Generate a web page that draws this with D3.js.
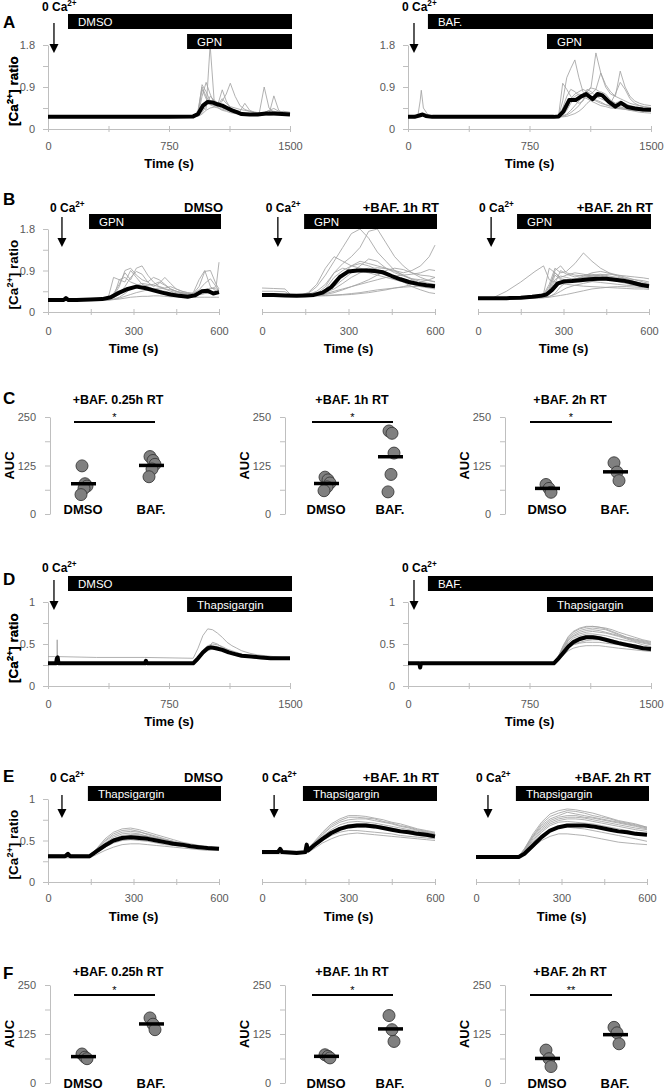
<!DOCTYPE html>
<html><head><meta charset="utf-8">
<script src="https://cdn.jsdelivr.net/npm/d3@7"></script>
<style>body{margin:0;background:#fff;} svg{display:block;}</style>
</head><body>
<script>
// ---------------- DATA ----------------
const xTicks1500 = [0, 375, 750, 1125, 1500];
const xLabels1500 = [0, 750, 1500];
const xTicks600 = [0, 150, 300, 450, 600];
const xLabels600 = [0, 300, 600];
const yTicksGPN = [0, 0.45, 0.9, 1.35, 1.8];
const yLabelsGPN = [0, 0.9, 1.8];
const yTicksTG = [0, 0.25, 0.5, 0.75, 1];
const yLabelsTG = [0, 0.5, 1];
const aucTicks = [0, 62.5, 125, 187.5, 250];
const aucLabels = [0, 125, 250];

// Panel A left (DMSO, GPN)
const meanTimeAL = [0, 150, 300, 450, 600, 750, 900, 930, 960, 990, 1020, 1050, 1080, 1110, 1140, 1170, 1200, 1250, 1300, 1350, 1400, 1450, 1500];
const meanAL = [0.26, 0.26, 0.26, 0.26, 0.26, 0.26, 0.27, 0.32, 0.50, 0.58, 0.57, 0.53, 0.50, 0.45, 0.40, 0.36, 0.32, 0.31, 0.31, 0.33, 0.33, 0.32, 0.31];
const respTimeA = [900, 930, 955, 980, 1005, 1030, 1055, 1080, 1105, 1130, 1160, 1190, 1220, 1250, 1280, 1310, 1340, 1370, 1400, 1430, 1460, 1500];
const tracesAL = [
  [0.26, 0.30, 0.45, 0.42, 1.80, 0.60, 0.45, 0.40, 0.38, 0.35, 0.33, 0.32, 0.30, 0.30, 0.31, 0.33, 0.32, 0.30, 0.31, 0.32, 0.31, 0.30],
  [0.26, 0.35, 0.95, 0.80, 0.60, 0.50, 0.48, 0.45, 0.42, 0.40, 0.36, 0.33, 0.32, 0.31, 0.30, 0.35, 0.90, 0.45, 0.35, 0.33, 0.32, 0.31],
  [0.26, 0.40, 0.90, 0.70, 0.55, 0.50, 0.55, 0.84, 0.60, 0.45, 0.40, 0.36, 0.33, 0.32, 0.31, 0.30, 0.31, 0.32, 0.71, 0.40, 0.34, 0.33],
  [0.26, 0.30, 0.70, 1.00, 0.75, 0.55, 0.50, 0.60, 0.75, 0.98, 0.70, 0.50, 0.42, 0.38, 0.35, 0.34, 0.33, 0.34, 0.35, 0.36, 0.34, 0.33],
  [0.26, 0.28, 0.40, 0.55, 0.60, 0.58, 0.55, 0.50, 0.46, 0.42, 0.40, 0.38, 0.55, 0.40, 0.36, 0.35, 0.34, 0.40, 0.38, 0.36, 0.37, 0.36],
  [0.26, 0.27, 0.32, 0.40, 0.45, 0.47, 0.45, 0.42, 0.40, 0.38, 0.35, 0.33, 0.32, 0.31, 0.30, 0.30, 0.30, 0.29, 0.30, 0.30, 0.30, 0.30],
  [0.26, 0.32, 0.85, 0.65, 0.52, 0.48, 0.52, 0.65, 0.55, 0.48, 0.45, 0.42, 0.40, 0.38, 0.36, 0.34, 0.33, 0.33, 0.34, 0.36, 0.38, 0.35],
  [0.26, 0.28, 0.35, 0.50, 0.70, 0.62, 0.55, 0.50, 0.48, 0.44, 0.40, 0.36, 0.34, 0.32, 0.32, 0.33, 0.35, 0.40, 0.44, 0.38, 0.35, 0.34]
];

// Panel A right (BAF., GPN)
const meanTimeAR = [0, 40, 70, 90, 110, 150, 300, 450, 600, 750, 900, 930, 960, 995, 1035, 1070, 1100, 1140, 1170, 1200, 1240, 1280, 1315, 1355, 1400, 1450, 1500];
const meanAR = [0.26, 0.26, 0.29, 0.31, 0.28, 0.26, 0.26, 0.26, 0.26, 0.26, 0.26, 0.27, 0.38, 0.62, 0.62, 0.70, 0.75, 0.64, 0.75, 0.72, 0.58, 0.48, 0.56, 0.47, 0.44, 0.42, 0.41];
const tracesAR = [
  [0.26, 0.30, 0.98, 0.85, 0.70, 0.60, 0.55, 0.60, 0.75, 0.70, 0.62, 0.58, 0.52, 0.48, 0.45, 0.44, 0.42, 0.40, 0.40, 0.39, 0.38, 0.38],
  [0.26, 0.28, 0.60, 1.10, 1.30, 1.48, 1.10, 0.80, 0.70, 0.65, 0.60, 0.55, 0.52, 0.50, 0.48, 0.46, 0.44, 0.42, 0.42, 0.41, 0.40, 0.40],
  [0.26, 0.27, 0.35, 0.50, 0.65, 0.75, 0.80, 0.85, 0.80, 0.90, 1.63, 1.20, 0.90, 0.75, 0.70, 0.65, 0.60, 0.55, 0.52, 0.50, 0.48, 0.46],
  [0.26, 0.26, 0.30, 0.40, 0.55, 0.65, 0.70, 0.75, 0.80, 0.75, 0.85, 1.20, 0.95, 0.80, 0.70, 1.24, 0.90, 0.70, 0.60, 0.55, 0.52, 0.50],
  [0.26, 0.26, 0.28, 0.32, 0.40, 0.50, 0.60, 0.70, 0.85, 0.80, 0.70, 0.65, 0.60, 0.55, 0.75, 1.00, 0.85, 0.65, 0.55, 0.50, 0.47, 0.45],
  [0.26, 0.28, 0.45, 0.70, 0.85, 0.80, 0.72, 0.68, 0.65, 0.60, 0.55, 0.50, 0.48, 0.45, 0.44, 0.43, 0.42, 0.41, 0.40, 0.40, 0.39, 0.39],
  [0.26, 0.26, 0.27, 0.30, 0.35, 0.42, 0.50, 0.62, 0.80, 0.88, 0.85, 0.78, 0.70, 0.60, 0.55, 0.52, 0.48, 0.45, 0.43, 0.42, 0.40, 0.40],
  [0.26, 0.27, 0.32, 0.45, 0.60, 0.70, 0.75, 0.72, 0.68, 0.65, 0.70, 0.80, 0.75, 0.62, 0.55, 0.60, 0.55, 0.50, 0.48, 0.46, 0.44, 0.42],
  [0.26, 0.26, 0.26, 0.27, 0.30, 0.33, 0.38, 0.45, 0.55, 0.62, 0.68, 0.72, 0.65, 0.58, 0.52, 0.48, 0.44, 0.40, 0.38, 0.36, 0.35, 0.34]
];
const spikeTimeAR = [0, 60, 75, 82, 95, 130];
const spikeAR = [0.26, 0.27, 0.60, 0.83, 0.45, 0.27];

// Panel B left (DMSO)
const meanTimeBL = [0, 30, 55, 63, 72, 100, 150, 190, 220, 250, 280, 310, 340, 370, 400, 430, 460, 490, 515, 540, 560, 580, 600];
const meanBL = [0.26, 0.26, 0.26, 0.30, 0.26, 0.26, 0.27, 0.28, 0.32, 0.42, 0.50, 0.55, 0.52, 0.47, 0.42, 0.38, 0.35, 0.33, 0.36, 0.45, 0.46, 0.40, 0.43];
const respTimeBL = [180, 210, 230, 250, 270, 290, 310, 330, 350, 370, 390, 410, 430, 450, 470, 490, 510, 530, 550, 570, 590, 600];
const tracesBL = [
  [0.26, 0.28, 0.75, 0.70, 0.65, 0.90, 0.75, 0.60, 0.55, 0.50, 0.48, 0.45, 0.42, 0.40, 0.38, 0.37, 0.42, 0.70, 0.90, 0.55, 0.45, 0.40],
  [0.26, 0.30, 0.40, 0.60, 0.85, 0.70, 0.95, 1.00, 0.80, 0.65, 0.55, 0.50, 0.45, 0.42, 0.40, 0.38, 0.40, 0.55, 0.88, 0.90, 0.60, 0.50],
  [0.26, 0.27, 0.35, 0.55, 0.90, 0.95, 0.80, 0.70, 0.65, 0.75, 0.70, 0.60, 0.50, 0.45, 0.42, 0.40, 0.38, 0.40, 0.45, 0.50, 0.55, 1.08],
  [0.26, 0.27, 0.30, 0.40, 0.55, 0.75, 0.88, 0.82, 0.65, 0.55, 0.62, 0.75, 0.62, 0.50, 0.45, 0.42, 0.40, 0.42, 0.48, 0.52, 0.50, 0.48],
  [0.26, 0.26, 0.28, 0.32, 0.40, 0.50, 0.58, 0.62, 0.60, 0.58, 0.55, 0.52, 0.55, 0.50, 0.45, 0.42, 0.40, 0.38, 0.40, 0.42, 0.42, 0.42],
  [0.26, 0.26, 0.27, 0.30, 0.34, 0.38, 0.42, 0.45, 0.48, 0.50, 0.52, 0.50, 0.48, 0.45, 0.42, 0.40, 0.38, 0.38, 0.40, 0.40, 0.40, 0.40],
  [0.26, 0.26, 0.27, 0.28, 0.30, 0.32, 0.33, 0.34, 0.34, 0.35, 0.35, 0.34, 0.33, 0.33, 0.32, 0.32, 0.32, 0.32, 0.32, 0.32, 0.32, 0.32],
  [0.26, 0.28, 0.32, 0.70, 0.75, 0.65, 0.60, 0.55, 0.58, 0.60, 0.65, 0.58, 0.50, 0.45, 0.40, 0.38, 0.40, 0.48, 0.62, 0.72, 0.55, 0.45]
];

// Panel B middle (+BAF. 1h RT)
const meanTimeBM = [0, 40, 80, 120, 150, 180, 210, 240, 270, 300, 330, 360, 390, 420, 450, 480, 510, 540, 570, 600];
const meanBM = [0.37, 0.37, 0.36, 0.35, 0.36, 0.37, 0.42, 0.54, 0.76, 0.88, 0.90, 0.90, 0.89, 0.86, 0.78, 0.71, 0.65, 0.61, 0.58, 0.56];
const respTimeBM = [0, 40, 80, 100, 130, 160, 190, 220, 250, 280, 310, 340, 370, 400, 430, 460, 490, 520, 550, 580, 600];
const tracesBM = [
  [0.52, 0.51, 0.50, 0.37, 0.36, 0.40, 0.55, 0.80, 1.10, 1.40, 1.70, 1.80, 1.60, 1.30, 1.10, 0.90, 0.80, 0.70, 0.62, 0.58, 0.55],
  [0.45, 0.45, 0.44, 0.36, 0.36, 0.38, 0.45, 0.60, 0.85, 1.05, 1.20, 1.40, 1.75, 1.80, 1.50, 1.20, 1.00, 0.85, 0.75, 0.68, 0.65],
  [0.37, 0.37, 0.36, 0.35, 0.36, 0.42, 0.60, 0.95, 1.20, 1.10, 1.00, 0.95, 0.90, 0.85, 0.80, 0.75, 0.70, 0.65, 0.62, 0.60, 0.58],
  [0.37, 0.37, 0.36, 0.35, 0.35, 0.36, 0.38, 0.45, 0.60, 0.80, 1.00, 1.10, 1.05, 1.00, 0.95, 0.90, 0.85, 0.90, 1.00, 1.20, 1.45],
  [0.37, 0.37, 0.36, 0.35, 0.35, 0.36, 0.40, 0.55, 0.85, 0.95, 0.90, 0.88, 0.85, 0.80, 0.75, 0.70, 0.65, 0.60, 0.55, 0.52, 0.50],
  [0.37, 0.37, 0.36, 0.35, 0.35, 0.35, 0.36, 0.38, 0.42, 0.48, 0.55, 0.62, 0.70, 0.80, 0.90, 0.95, 0.92, 0.85, 0.80, 0.78, 0.75],
  [0.37, 0.37, 0.36, 0.35, 0.35, 0.36, 0.37, 0.40, 0.45, 0.50, 0.55, 0.60, 0.65, 0.70, 0.75, 0.78, 0.80, 0.82, 0.85, 0.92, 0.90],
  [0.37, 0.37, 0.36, 0.35, 0.35, 0.35, 0.35, 0.36, 0.37, 0.38, 0.40, 0.42, 0.45, 0.48, 0.50, 0.52, 0.54, 0.55, 0.56, 0.57, 0.58],
  [0.37, 0.37, 0.36, 0.35, 0.35, 0.36, 0.38, 0.50, 0.75, 0.90, 1.00, 1.05, 1.00, 0.92, 0.85, 0.75, 0.65, 0.55, 0.48, 0.42, 0.40],
  [0.37, 0.37, 0.36, 0.35, 0.35, 0.35, 0.36, 0.40, 0.55, 0.70, 0.85, 1.00, 1.15, 1.10, 0.95, 0.85, 0.78, 0.72, 0.70, 0.68, 0.66],
  [0.37, 0.37, 0.36, 0.35, 0.35, 0.35, 0.35, 0.35, 0.36, 0.37, 0.38, 0.40, 0.42, 0.45, 0.48, 0.52, 0.55, 0.60, 0.65, 0.70, 0.75],
  [0.37, 0.37, 0.36, 0.35, 0.35, 0.36, 0.39, 0.48, 0.65, 0.80, 0.88, 0.92, 0.95, 0.90, 0.85, 0.78, 0.72, 0.66, 0.62, 0.58, 0.55],
  [0.37, 0.37, 0.36, 0.35, 0.35, 0.35, 0.37, 0.42, 0.50, 0.62, 0.75, 0.85, 0.92, 0.96, 0.94, 0.88, 0.80, 0.72, 0.66, 0.62, 0.60]
];

// Panel B right (+BAF. 2h RT)
const meanTimeBR = [0, 50, 100, 150, 190, 220, 240, 260, 280, 300, 330, 360, 390, 420, 450, 480, 510, 540, 570, 600];
const meanBR = [0.30, 0.30, 0.30, 0.31, 0.33, 0.35, 0.38, 0.48, 0.62, 0.66, 0.67, 0.69, 0.71, 0.72, 0.72, 0.70, 0.68, 0.64, 0.59, 0.56];
const respTimeBR = [0, 50, 100, 150, 200, 230, 250, 270, 290, 310, 340, 370, 400, 430, 460, 490, 520, 550, 580, 600];
const tracesBR = [
  [0.30, 0.30, 0.45, 0.65, 0.88, 1.00, 0.70, 0.65, 0.62, 0.60, 0.58, 0.56, 0.55, 0.54, 0.53, 0.52, 0.51, 0.50, 0.50, 0.49],
  [0.30, 0.30, 0.30, 0.31, 0.33, 0.40, 0.95, 0.85, 0.75, 0.80, 0.85, 0.82, 0.78, 0.75, 0.72, 0.70, 0.68, 0.65, 0.62, 0.60],
  [0.30, 0.30, 0.30, 0.31, 0.33, 0.38, 0.60, 0.95, 0.85, 0.88, 1.05, 1.28, 1.10, 0.95, 0.85, 0.80, 0.75, 0.70, 0.65, 0.62],
  [0.30, 0.30, 0.30, 0.31, 0.32, 0.35, 0.50, 0.90, 1.00, 0.85, 0.80, 0.78, 0.80, 0.82, 0.78, 0.75, 0.72, 0.70, 0.68, 0.65],
  [0.30, 0.30, 0.30, 0.30, 0.31, 0.33, 0.38, 0.50, 0.62, 0.68, 0.72, 0.75, 0.78, 0.80, 0.82, 0.80, 0.78, 0.76, 0.74, 0.72],
  [0.30, 0.30, 0.30, 0.30, 0.31, 0.32, 0.34, 0.38, 0.45, 0.52, 0.58, 0.62, 0.66, 0.70, 0.72, 0.70, 0.66, 0.62, 0.58, 0.55],
  [0.30, 0.30, 0.30, 0.30, 0.30, 0.31, 0.32, 0.34, 0.36, 0.38, 0.42, 0.46, 0.50, 0.52, 0.54, 0.55, 0.55, 0.54, 0.53, 0.52],
  [0.30, 0.30, 0.30, 0.31, 0.32, 0.36, 0.55, 0.85, 0.72, 0.70, 0.72, 0.75, 0.78, 0.80, 0.76, 0.72, 0.68, 0.64, 0.60, 0.58],
  [0.30, 0.30, 0.30, 0.30, 0.31, 0.34, 0.42, 0.70, 0.78, 0.75, 0.70, 0.72, 0.74, 0.73, 0.70, 0.66, 0.62, 0.58, 0.55, 0.52],
  [0.30, 0.30, 0.30, 0.30, 0.31, 0.33, 0.45, 0.80, 0.70, 0.68, 0.70, 0.78, 0.85, 0.88, 0.84, 0.78, 0.72, 0.66, 0.62, 0.60],
  [0.30, 0.30, 0.30, 0.30, 0.30, 0.31, 0.33, 0.40, 0.55, 0.65, 0.70, 0.68, 0.66, 0.64, 0.62, 0.60, 0.58, 0.57, 0.56, 0.55],
  [0.30, 0.30, 0.30, 0.31, 0.32, 0.34, 0.40, 0.62, 0.90, 0.82, 0.76, 0.80, 0.82, 0.78, 0.74, 0.70, 0.66, 0.63, 0.60, 0.57]
];

// Panel D left (DMSO, Thapsigargin)
const meanTimeDL = [0, 50, 55, 60, 65, 100, 300, 500, 600, 607, 615, 700, 800, 900, 930, 960, 990, 1010, 1040, 1080, 1120, 1160, 1200, 1260, 1320, 1380, 1440, 1500];
const meanDL = [0.27, 0.27, 0.33, 0.34, 0.27, 0.27, 0.27, 0.27, 0.27, 0.30, 0.27, 0.27, 0.27, 0.27, 0.33, 0.40, 0.45, 0.46, 0.45, 0.43, 0.40, 0.38, 0.36, 0.35, 0.34, 0.33, 0.33, 0.33];
const respTimeDL = [0, 55, 57, 60, 300, 600, 900, 930, 960, 990, 1020, 1050, 1080, 1110, 1140, 1170, 1200, 1250, 1300, 1350, 1400, 1450, 1500];
const tracesDL = [
  [0.35, 0.35, 0.35, 0.35, 0.34, 0.34, 0.33, 0.45, 0.60, 0.68, 0.67, 0.63, 0.58, 0.52, 0.48, 0.45, 0.42, 0.39, 0.37, 0.36, 0.35, 0.34, 0.34],
  [0.27, 0.27, 0.55, 0.28, 0.27, 0.27, 0.27, 0.35, 0.43, 0.48, 0.50, 0.49, 0.47, 0.44, 0.42, 0.40, 0.38, 0.36, 0.35, 0.34, 0.33, 0.33, 0.33],
  [0.28, 0.28, 0.28, 0.28, 0.28, 0.28, 0.28, 0.34, 0.42, 0.47, 0.48, 0.47, 0.45, 0.43, 0.40, 0.38, 0.37, 0.35, 0.34, 0.33, 0.33, 0.33, 0.32],
  [0.26, 0.26, 0.26, 0.26, 0.26, 0.26, 0.26, 0.30, 0.38, 0.42, 0.44, 0.44, 0.42, 0.40, 0.38, 0.36, 0.35, 0.34, 0.33, 0.33, 0.32, 0.32, 0.32],
  [0.27, 0.27, 0.27, 0.27, 0.27, 0.27, 0.27, 0.32, 0.40, 0.45, 0.52, 0.50, 0.46, 0.43, 0.40, 0.37, 0.36, 0.35, 0.34, 0.34, 0.33, 0.33, 0.33]
];

// Panel D right (BAF., Thapsigargin)
const meanTimeDR = [0, 40, 70, 75, 80, 120, 300, 600, 900, 930, 960, 990, 1020, 1060, 1100, 1140, 1180, 1220, 1260, 1300, 1350, 1400, 1450, 1500];
const meanDR = [0.27, 0.27, 0.27, 0.22, 0.27, 0.27, 0.27, 0.27, 0.27, 0.33, 0.40, 0.47, 0.52, 0.56, 0.58, 0.58, 0.57, 0.55, 0.53, 0.51, 0.49, 0.47, 0.45, 0.44];
const respTimeDR = [900, 930, 960, 990, 1020, 1060, 1100, 1140, 1180, 1220, 1260, 1300, 1350, 1400, 1450, 1500];
const tracesDR = [
  [0.28, 0.36, 0.48, 0.58, 0.64, 0.68, 0.70, 0.71, 0.70, 0.68, 0.65, 0.62, 0.58, 0.55, 0.53, 0.51],
  [0.28, 0.35, 0.45, 0.55, 0.60, 0.64, 0.66, 0.67, 0.66, 0.64, 0.62, 0.60, 0.57, 0.54, 0.52, 0.50],
  [0.28, 0.32, 0.40, 0.46, 0.50, 0.52, 0.54, 0.55, 0.55, 0.54, 0.52, 0.50, 0.48, 0.46, 0.44, 0.43],
  [0.28, 0.31, 0.37, 0.42, 0.45, 0.47, 0.48, 0.48, 0.48, 0.47, 0.46, 0.45, 0.44, 0.43, 0.42, 0.41],
  [0.28, 0.34, 0.44, 0.52, 0.57, 0.60, 0.62, 0.62, 0.61, 0.60, 0.58, 0.56, 0.54, 0.52, 0.49, 0.47],
  [0.28, 0.33, 0.42, 0.50, 0.55, 0.58, 0.60, 0.60, 0.59, 0.57, 0.55, 0.53, 0.51, 0.49, 0.47, 0.45],
  [0.28, 0.35, 0.47, 0.56, 0.62, 0.66, 0.68, 0.69, 0.68, 0.67, 0.64, 0.61, 0.58, 0.56, 0.54, 0.52],
  [0.29, 0.36, 0.49, 0.59, 0.65, 0.69, 0.71, 0.71, 0.70, 0.69, 0.67, 0.64, 0.61, 0.58, 0.55, 0.53],
  [0.28, 0.32, 0.39, 0.45, 0.49, 0.51, 0.52, 0.52, 0.52, 0.51, 0.50, 0.49, 0.47, 0.45, 0.44, 0.42],
  [0.28, 0.34, 0.45, 0.54, 0.59, 0.62, 0.64, 0.65, 0.64, 0.63, 0.61, 0.59, 0.56, 0.53, 0.51, 0.49]
];

// Panel E left (DMSO)
const meanTimeEL = [0, 60, 70, 78, 90, 120, 145, 170, 200, 230, 260, 290, 320, 350, 380, 410, 440, 470, 500, 530, 560, 600];
const meanEL = [0.31, 0.31, 0.34, 0.31, 0.31, 0.31, 0.31, 0.37, 0.44, 0.50, 0.53, 0.54, 0.53, 0.52, 0.50, 0.48, 0.46, 0.45, 0.43, 0.42, 0.41, 0.40];
const respTimeEL = [0, 145, 170, 200, 230, 260, 290, 320, 350, 380, 410, 440, 470, 500, 530, 560, 600];
const tracesEL = [
  [0.33, 0.32, 0.40, 0.50, 0.58, 0.62, 0.63, 0.61, 0.57, 0.54, 0.51, 0.48, 0.46, 0.44, 0.42, 0.41, 0.40],
  [0.31, 0.31, 0.38, 0.47, 0.54, 0.58, 0.59, 0.58, 0.55, 0.52, 0.50, 0.47, 0.45, 0.43, 0.42, 0.41, 0.40],
  [0.30, 0.30, 0.35, 0.42, 0.47, 0.50, 0.51, 0.50, 0.49, 0.47, 0.45, 0.44, 0.43, 0.42, 0.41, 0.40, 0.39],
  [0.29, 0.29, 0.33, 0.38, 0.42, 0.45, 0.46, 0.46, 0.45, 0.44, 0.43, 0.42, 0.41, 0.40, 0.39, 0.38, 0.38],
  [0.32, 0.31, 0.39, 0.49, 0.56, 0.60, 0.61, 0.60, 0.58, 0.55, 0.52, 0.49, 0.46, 0.44, 0.43, 0.42, 0.41],
  [0.31, 0.31, 0.36, 0.44, 0.50, 0.54, 0.56, 0.56, 0.54, 0.52, 0.49, 0.47, 0.45, 0.43, 0.41, 0.40, 0.39],
  [0.30, 0.30, 0.37, 0.45, 0.52, 0.56, 0.57, 0.57, 0.55, 0.53, 0.51, 0.49, 0.47, 0.45, 0.43, 0.41, 0.40],
  [0.32, 0.32, 0.40, 0.52, 0.60, 0.64, 0.65, 0.63, 0.60, 0.57, 0.54, 0.51, 0.48, 0.46, 0.44, 0.42, 0.41]
];

// Panel E middle (+BAF. 1h RT)
const meanTimeEM = [0, 55, 63, 70, 120, 150, 155, 160, 180, 210, 240, 270, 300, 330, 360, 390, 420, 450, 480, 510, 540, 570, 600];
const meanEM = [0.36, 0.36, 0.40, 0.36, 0.35, 0.36, 0.45, 0.38, 0.44, 0.52, 0.59, 0.64, 0.67, 0.68, 0.68, 0.67, 0.65, 0.63, 0.61, 0.60, 0.58, 0.57, 0.55];
const respTimeEM = [0, 150, 180, 210, 240, 270, 300, 330, 360, 390, 420, 450, 480, 510, 540, 570, 600];
const tracesEM = [
  [0.38, 0.37, 0.48, 0.60, 0.70, 0.76, 0.80, 0.80, 0.79, 0.77, 0.75, 0.72, 0.70, 0.67, 0.64, 0.62, 0.60],
  [0.36, 0.36, 0.45, 0.55, 0.63, 0.69, 0.72, 0.73, 0.72, 0.71, 0.69, 0.67, 0.65, 0.63, 0.61, 0.59, 0.58],
  [0.35, 0.35, 0.42, 0.50, 0.56, 0.60, 0.62, 0.62, 0.61, 0.60, 0.59, 0.58, 0.56, 0.55, 0.54, 0.53, 0.52],
  [0.37, 0.36, 0.46, 0.57, 0.66, 0.72, 0.75, 0.76, 0.76, 0.74, 0.72, 0.70, 0.67, 0.65, 0.62, 0.60, 0.58],
  [0.34, 0.34, 0.40, 0.47, 0.52, 0.56, 0.58, 0.59, 0.58, 0.57, 0.56, 0.55, 0.54, 0.53, 0.52, 0.51, 0.50],
  [0.36, 0.36, 0.44, 0.53, 0.61, 0.66, 0.69, 0.70, 0.70, 0.69, 0.67, 0.65, 0.63, 0.61, 0.59, 0.57, 0.56],
  [0.36, 0.36, 0.47, 0.58, 0.68, 0.74, 0.78, 0.78, 0.77, 0.76, 0.73, 0.71, 0.68, 0.66, 0.63, 0.61, 0.59],
  [0.35, 0.35, 0.43, 0.51, 0.58, 0.63, 0.65, 0.66, 0.66, 0.65, 0.64, 0.62, 0.60, 0.58, 0.56, 0.55, 0.53]
];

// Panel E right (+BAF. 2h RT)
const meanTimeER = [0, 50, 100, 150, 170, 200, 230, 260, 290, 320, 350, 380, 410, 440, 470, 500, 530, 560, 600];
const meanER = [0.30, 0.30, 0.30, 0.30, 0.34, 0.44, 0.54, 0.62, 0.66, 0.68, 0.68, 0.68, 0.67, 0.65, 0.63, 0.61, 0.60, 0.58, 0.57];
const respTimeER = [0, 150, 170, 200, 230, 260, 290, 320, 350, 380, 410, 440, 470, 500, 530, 560, 600];
const tracesER = [
  [0.31, 0.31, 0.40, 0.58, 0.72, 0.82, 0.86, 0.88, 0.87, 0.85, 0.83, 0.80, 0.77, 0.74, 0.72, 0.70, 0.66],
  [0.30, 0.30, 0.37, 0.52, 0.64, 0.72, 0.76, 0.78, 0.78, 0.77, 0.75, 0.73, 0.71, 0.69, 0.67, 0.65, 0.63],
  [0.30, 0.30, 0.35, 0.46, 0.56, 0.62, 0.65, 0.66, 0.65, 0.64, 0.62, 0.60, 0.58, 0.56, 0.54, 0.52, 0.49],
  [0.29, 0.29, 0.33, 0.42, 0.50, 0.55, 0.58, 0.58, 0.57, 0.56, 0.54, 0.52, 0.50, 0.48, 0.47, 0.46, 0.45],
  [0.31, 0.31, 0.39, 0.55, 0.68, 0.76, 0.80, 0.84, 0.82, 0.80, 0.78, 0.76, 0.74, 0.72, 0.70, 0.68, 0.65],
  [0.30, 0.30, 0.36, 0.48, 0.60, 0.68, 0.72, 0.73, 0.72, 0.71, 0.70, 0.68, 0.66, 0.64, 0.62, 0.60, 0.58],
  [0.30, 0.30, 0.38, 0.54, 0.66, 0.74, 0.78, 0.80, 0.80, 0.78, 0.77, 0.75, 0.73, 0.71, 0.69, 0.67, 0.64],
  [0.30, 0.30, 0.37, 0.50, 0.62, 0.70, 0.74, 0.76, 0.76, 0.75, 0.73, 0.71, 0.69, 0.67, 0.65, 0.63, 0.61],
  [0.31, 0.31, 0.40, 0.56, 0.70, 0.79, 0.83, 0.86, 0.85, 0.83, 0.80, 0.78, 0.76, 0.73, 0.71, 0.69, 0.66]
];

// Panels C and F (AUC)
const groupNames = ["DMSO", "BAF."];
const aucTitles = ["+BAF. 0.25h RT", "+BAF. 1h RT", "+BAF. 2h RT"];
const cDMSO = [[124, 78, 72, 66, 50], [95, 88, 80, 70, 60], [76, 66, 56]];
const cBAF = [[148, 138, 128, 116, 96], [214, 208, 157, 102, 57], [132, 108, 86]];
const cStars = ["*", "*", "*"];
const fDMSO = [[74, 66, 62], [72, 68, 64], [84, 62, 42]];
const fBAF = [[166, 150, 136], [172, 136, 106], [142, 128, 100]];
const fStars = ["*", "*", "**"];

// ---------------- DRAWING ----------------
const FONT = '"Liberation Sans", Arial, sans-serif';
const AXC = "#bfbfbf", TXC = "#595959";
const svg = d3.select("body").append("svg").attr("width", 664).attr("height", 1091)
  .style("font-family", FONT);
let clipN = 0;

function styleAxis(g) {
  g.attr("font-family", FONT).attr("font-size", 11);
  g.select(".domain").attr("stroke", AXC);
  g.selectAll(".tick line").attr("stroke", AXC);
  g.selectAll(".tick text").attr("fill", TXC);
}
function pairs(times, vals) {
  return vals.map((v, i) => [times[i], v]).filter(d => d[0] !== undefined);
}
function caText(x, y, size, pre, post, anchor, rotate) {
  const t = svg.append("text").attr("font-weight", "bold").attr("font-size", size).attr("fill", "#000")
    .attr("text-anchor", anchor || "start");
  if (rotate) t.attr("transform", `translate(${x},${y}) rotate(-90)`);
  else t.attr("x", x).attr("y", y);
  t.append("tspan").text(pre + "Ca");
  t.append("tspan").attr("dy", -size * 0.38).attr("font-size", size * 0.68).text("2+");
  t.append("tspan").attr("dy", size * 0.38).text(post);
  return t;
}
function letter(t, x, y) {
  svg.append("text").attr("x", x).attr("y", y).attr("font-weight", "bold").attr("font-size", 17).text(t);
}

function tracePanel(p) {
  const x = d3.scaleLinear().domain(p.xDomain).range([p.x0, p.x1]);
  const y = d3.scaleLinear().domain(p.yDomain).range([p.yBot, p.yTop]);
  const cid = "clip" + (clipN++);
  svg.append("clipPath").attr("id", cid).append("rect")
    .attr("x", p.x0).attr("y", p.yTop - 1).attr("width", p.x1 - p.x0 + 2).attr("height", p.yBot - p.yTop + 1);

  const gx = svg.append("g").attr("transform", `translate(0,${p.yBot})`)
    .call(d3.axisBottom(x).tickValues(p.xTicks).tickFormat(d => p.xLabels.includes(d) ? d : "").tickSize(6).tickSizeOuter(0));
  gx.selectAll(".tick line").attr("y1", -3).attr("y2", 3);
  gx.selectAll(".tick text").attr("y", p.xLabelY - p.yBot).attr("dy", 0);
  styleAxis(gx);

  if (p.yAxis) {
    const gy = svg.append("g").attr("transform", `translate(${p.x0},0)`)
      .call(d3.axisLeft(y).tickValues(p.yTicks).tickFormat(d => p.yLabels.includes(d) ? d : "").tickSize(5).tickSizeOuter(0).tickPadding(8));
    styleAxis(gy);
    caText(18, (p.yTop + p.yBot) / 2 + 4, 13.5, "[", "] ratio", "middle", true);
  }

  const line = d3.line().x(d => x(d[0])).y(d => y(d[1]));
  const gl = svg.append("g").attr("clip-path", `url(#${cid})`);
  p.traces.forEach(tr => gl.append("path").attr("d", line(pairs(p.respTime, tr)))
    .attr("fill", "none").attr("stroke", "#a3a3a3").attr("stroke-width", 0.85));
  (p.extra || []).forEach(ex => gl.append("path").attr("d", line(pairs(ex[0], ex[1])))
    .attr("fill", "none").attr("stroke", "#a3a3a3").attr("stroke-width", 0.85));
  gl.append("path").attr("d", line(pairs(p.meanTime, p.mean)))
    .attr("fill", "none").attr("stroke", "#000").attr("stroke-width", 4).attr("stroke-linejoin", "round");

  // 0 Ca2+ arrow
  const ax = x(p.arrowT);
  caText(ax - 12, p.caY, 12, "0 ", "", "start", false);
  svg.append("line").attr("x1", ax).attr("x2", ax).attr("y1", p.arrowY[0]).attr("y2", p.arrowY[1] - 8)
    .attr("stroke", "#000").attr("stroke-width", 1.3);
  svg.append("path").attr("d", `M${ax - 4.5},${p.arrowY[1] - 9}L${ax + 4.5},${p.arrowY[1] - 9}L${ax},${p.arrowY[1]}Z`).attr("fill", "#000");

  // treatment bars
  p.bars.forEach(b => {
    const bx = x(b.t0);
    svg.append("rect").attr("x", bx).attr("y", b.y).attr("width", p.x1 + 2 - bx).attr("height", 15).attr("fill", "#000");
    svg.append("text").attr("x", bx + 10).attr("y", b.y + 11.5).attr("fill", "#fff").attr("font-size", 11.5).text(b.text);
  });
  if (p.cond) {
    svg.append("text").attr("x", p.x1 + 4).attr("y", p.caY).attr("text-anchor", "end")
      .attr("font-weight", "bold").attr("font-size", 13).text(p.cond);
  }
  svg.append("text").attr("x", (p.x0 + p.x1) / 2).attr("y", p.timeY).attr("text-anchor", "middle")
    .attr("font-weight", "bold").attr("font-size", 13).text("Time (s)");
}

const gpnA = { xDomain: [0, 1500], yDomain: [0, 1.8], xTicks: xTicks1500, xLabels: xLabels1500, yTicks: yTicksGPN, yLabels: yLabelsGPN,
  yTop: 45, yBot: 129, yAxis: true, arrowT: 37, arrowY: [23, 53], caY: 11, xLabelY: 150, timeY: 168, respTime: respTimeA };
tracePanel(Object.assign({}, gpnA, { x0: 48, x1: 290, meanTime: meanTimeAL, mean: meanAL, traces: tracesAL,
  bars: [{ t0: 124, y: 14, text: "DMSO" }, { t0: 862, y: 34, text: "GPN" }] }));
tracePanel(Object.assign({}, gpnA, { x0: 408, x1: 651, meanTime: meanTimeAR, mean: meanAR, traces: tracesAR,
  extra: [[spikeTimeAR, spikeAR]],
  bars: [{ t0: 123, y: 14, text: "BAF." }, { t0: 858, y: 34, text: "GPN" }] }));
letter("A", 3, 28);

const tgD = { xDomain: [0, 1500], yDomain: [0, 1], xTicks: xTicks1500, xLabels: xLabels1500, yTicks: yTicksTG, yLabels: yLabelsTG,
  yTop: 602, yBot: 686, yAxis: true, arrowT: 37, arrowY: [580, 610], caY: 572, xLabelY: 708, timeY: 726 };
tracePanel(Object.assign({}, tgD, { x0: 48, x1: 290, meanTime: meanTimeDL, mean: meanDL, respTime: respTimeDL, traces: tracesDL,
  bars: [{ t0: 124, y: 576, text: "DMSO" }, { t0: 862, y: 597, text: "Thapsigargin" }] }));
tracePanel(Object.assign({}, tgD, { x0: 408, x1: 651, meanTime: meanTimeDR, mean: meanDR, respTime: respTimeDR, traces: tracesDR,
  bars: [{ t0: 123, y: 576, text: "BAF." }, { t0: 858, y: 597, text: "Thapsigargin" }] }));
letter("D", 3, 585);

const gpnB = { xDomain: [0, 600], yDomain: [0, 1.8], xTicks: xTicks600, xLabels: xLabels600, yTicks: yTicksGPN, yLabels: yLabelsGPN,
  yTop: 229, yBot: 312, arrowY: [217, 247], caY: 212, xLabelY: 335, timeY: 353 };
tracePanel(Object.assign({}, gpnB, { x0: 48, x1: 219, yAxis: true, arrowT: 49, cond: "DMSO",
  meanTime: meanTimeBL, mean: meanBL, respTime: respTimeBL, traces: tracesBL, bars: [{ t0: 144, y: 214, text: "GPN" }] }));
tracePanel(Object.assign({}, gpnB, { x0: 262, x1: 435, yAxis: false, arrowT: 55, cond: "+BAF. 1h RT",
  meanTime: meanTimeBM, mean: meanBM, respTime: respTimeBM, traces: tracesBM, bars: [{ t0: 146, y: 214, text: "GPN" }] }));
tracePanel(Object.assign({}, gpnB, { x0: 478, x1: 649, yAxis: false, arrowT: 46, cond: "+BAF. 2h RT",
  meanTime: meanTimeBR, mean: meanBR, respTime: respTimeBR, traces: tracesBR, bars: [{ t0: 137, y: 214, text: "GPN" }] }));
letter("B", 3, 205);

const tgE = { xDomain: [0, 600], yDomain: [0, 1], xTicks: xTicks600, xLabels: xLabels600, yTicks: yTicksTG, yLabels: yLabelsTG,
  yTop: 799, yBot: 882, arrowY: [795, 818], caY: 782, xLabelY: 902, timeY: 921 };
tracePanel(Object.assign({}, tgE, { x0: 48, x1: 219, yAxis: true, arrowT: 49, cond: "DMSO",
  meanTime: meanTimeEL, mean: meanEL, respTime: respTimeEL, traces: tracesEL, bars: [{ t0: 140, y: 786, text: "Thapsigargin" }] }));
tracePanel(Object.assign({}, tgE, { x0: 262, x1: 435, yAxis: false, arrowT: 42, cond: "+BAF. 1h RT",
  meanTime: meanTimeEM, mean: meanEM, respTime: respTimeEM, traces: tracesEM, bars: [{ t0: 142, y: 786, text: "Thapsigargin" }] }));
tracePanel(Object.assign({}, tgE, { x0: 476, x1: 647, yAxis: false, arrowT: 42, cond: "+BAF. 2h RT",
  meanTime: meanTimeER, mean: meanER, respTime: respTimeER, traces: tracesER, bars: [{ t0: 140, y: 786, text: "Thapsigargin" }] }));
letter("E", 3, 782);

// AUC strip plots
function stripPanel(p, dmso, baf, stars) {
  const y = d3.scaleLinear().domain([0, 250]).range([p.yBot, p.yTop]);
  for (let k = 0; k < 3; k++) {
    const axX = p.axisX[k];
    const gy = svg.append("g").attr("transform", `translate(${axX},0)`)
      .call(d3.axisLeft(y).tickValues(aucTicks).tickFormat(d => aucLabels.includes(d) ? d : "").tickSize(5).tickSizeOuter(0).tickPadding(9));
    styleAxis(gy);
    svg.append("text").attr("transform", `translate(${axX - 36},${(p.yTop + p.yBot) / 2}) rotate(-90)`)
      .attr("text-anchor", "middle").attr("font-weight", "bold").attr("font-size", 13).text("AUC");
    const x = d3.scalePoint().domain(groupNames).range(p.cat[k]);
    svg.append("text").attr("x", p.titleX[k]).attr("y", p.titleY).attr("text-anchor", "middle")
      .attr("font-weight", "bold").attr("font-size", 12.5).text(aucTitles[k]);
    svg.append("line").attr("x1", p.sig[k][0]).attr("x2", p.sig[k][1]).attr("y1", p.sigY).attr("y2", p.sigY)
      .attr("stroke", "#000").attr("stroke-width", 2);
    svg.append("text").attr("x", (p.sig[k][0] + p.sig[k][1]) / 2).attr("y", p.sigY - 1).attr("text-anchor", "middle")
      .attr("font-size", 11).text(stars[k]);
    [dmso[k], baf[k]].forEach((vals, gi) => {
      const cx = x(groupNames[gi]);
      const jit = [-1, 2, 4, 1, -2];
      svg.append("g").selectAll("circle").data(vals).join("circle")
        .attr("cx", (d, i) => cx + jit[i % 5]).attr("cy", d => y(d)).attr("r", 6)
        .attr("fill", "#808080").attr("stroke", "#3a3a3a").attr("stroke-width", 0.9);
      const m = d3.mean(vals);
      svg.append("line").attr("x1", cx - 12).attr("x2", cx + 13).attr("y1", y(m)).attr("y2", y(m))
        .attr("stroke", "#000").attr("stroke-width", 3.5);
      svg.append("text").attr("x", cx).attr("y", p.catY).attr("text-anchor", "middle")
        .attr("font-weight", "bold").attr("font-size", 13).text(groupNames[gi]);
    });
  }
}
const stripLayout = { axisX: [50, 285, 505], cat: [[83, 151], [326, 390], [547, 615]], titleX: [118, 352, 570],
  sig: [[74, 155], [312, 393], [530, 612]] };
stripPanel(Object.assign({}, stripLayout, { yTop: 417, yBot: 514, titleY: 404, sigY: 422, catY: 514 }), cDMSO, cBAF, cStars);
letter("C", 3, 404);
stripPanel(Object.assign({}, stripLayout, { yTop: 985, yBot: 1083, titleY: 976, sigY: 995, catY: 1088 }), fDMSO, fBAF, fStars);
letter("F", 3, 979);
</script>
</body></html>
